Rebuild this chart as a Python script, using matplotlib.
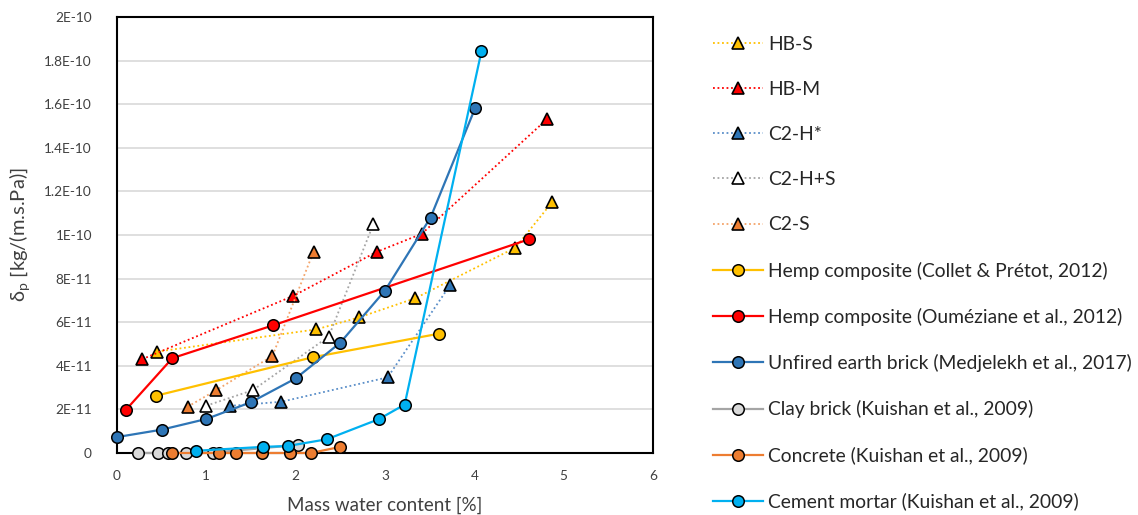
import numpy as np
import matplotlib
matplotlib.use("Agg")
import matplotlib.pyplot as plt
from matplotlib.ticker import FuncFormatter, MultipleLocator

plt.rcParams["font.family"] = ["Lato", "DejaVu Sans"]

# values, y in units of 1E-11 kg/(m.s.Pa)
hbs_x = [0.45, 2.23, 2.71, 3.34, 4.46, 4.87]
hbs_y = [4.65, 5.67, 6.22, 7.10, 9.42, 11.5]
hbm_x = [0.28, 1.97, 2.91, 3.41, 4.81]
hbm_y = [4.30, 7.20, 9.23, 10.05, 15.3]
c2h_x = [1.26, 1.84, 3.03, 3.73]
c2h_y = [2.16, 2.35, 3.47, 7.71]
c2hs_x = [1.00, 1.52, 2.37, 2.87]
c2hs_y = [2.17, 2.88, 5.34, 10.5]
c2s_x = [0.79, 1.11, 1.74, 2.20]
c2s_y = [2.12, 2.88, 4.45, 9.23]

collet_x = [0.44, 2.19, 3.60]
collet_y = [2.63, 4.39, 5.47]
oum_x = [0.10, 0.62, 1.75, 4.61]
oum_y = [1.98, 4.35, 5.86, 9.80]
earth_x = [0.0, 0.50, 1.00, 1.50, 2.00, 2.50, 3.00, 3.51, 4.01]
earth_y = [0.73, 1.07, 1.56, 2.33, 3.42, 5.06, 7.45, 10.8, 15.83]
clay_x = [0.23, 0.46, 0.57, 0.77, 1.08, 2.03]
clay_y = [0.0, 0.0, 0.0, 0.0, 0.02, 0.37]
concrete_x = [0.62, 1.14, 1.33, 1.62, 1.94, 2.17, 2.50]
concrete_y = [0.0, 0.0, 0.0, 0.0, 0.0, 0.0, 0.28]
mortar_x = [0.88, 1.63, 1.91, 2.35, 2.93, 3.22, 4.08]
mortar_y = [0.10, 0.28, 0.32, 0.63, 1.55, 2.22, 18.43]

SCALE = 1e-11

# (label, x, y, line colour, marker fill, dotted?, marker)
series = [
    ("HB-S", hbs_x, hbs_y, "#FFC000", "#FFC000", True, "^"),
    ("HB-M", hbm_x, hbm_y, "#FF0000", "#FF0000", True, "^"),
    ("C2-H*", c2h_x, c2h_y, "#5B8FC9", "#2E75B6", True, "^"),
    ("C2-H+S", c2hs_x, c2hs_y, "#A5A5A5", "#FFFFFF", True, "^"),
    ("C2-S", c2s_x, c2s_y, "#F4A46A", "#ED7D31", True, "^"),
    ("Hemp composite (Collet & Prétot, 2012)", collet_x, collet_y, "#FFC000", "#FFC000", False, "o"),
    ("Hemp composite (Ouméziane et al., 2012)", oum_x, oum_y, "#FF0000", "#FF0000", False, "o"),
    ("Unfired earth brick (Medjelekh et al., 2017)", earth_x, earth_y, "#2E75B6", "#2E75B6", False, "o"),
    ("Clay brick (Kuishan et al., 2009)", clay_x, clay_y, "#A5A5A5", "#D9D9D9", False, "o"),
    ("Concrete (Kuishan et al., 2009)", concrete_x, concrete_y, "#ED7D31", "#ED7D31", False, "o"),
    ("Cement mortar (Kuishan et al., 2009)", mortar_x, mortar_y, "#00B0F0", "#00B0F0", False, "o"),
]


def sci_label(v, pos):
    if abs(v) < 1e-15:
        return "0"
    if v < 0:
        return ""
    e = int(np.floor(np.log10(v) + 1e-9))
    m = round(v / 10 ** e, 3)
    return f"{m:g}E{e}"


fig = plt.figure(figsize=(11.38, 5.15), dpi=100)
ax = fig.add_axes([0.1028, 0.1204, 0.471, 0.8466])

for label, xs, ys, lc, fc, dotted, mk in series:
    y = np.array(ys) * SCALE
    if dotted:
        ax.plot(xs, y, color=lc, lw=1.3, ls=(0, (1, 1.5)), marker=mk, ms=8.2,
                mfc=fc, mec="black", mew=1.2, label=label, zorder=3, clip_on=False)
    else:
        ax.plot(xs, y, color=lc, lw=1.6, ls="-", marker=mk, ms=8.3,
                mfc=fc, mec="black", mew=1.1, label=label, zorder=3, clip_on=False)

ax.set_xlim(0, 6)
ax.set_ylim(0, 2e-10)
ax.xaxis.set_major_locator(MultipleLocator(1))
ax.yaxis.set_major_locator(MultipleLocator(2e-11))
ax.yaxis.set_major_formatter(FuncFormatter(sci_label))
ax.tick_params(length=0, labelsize=9.8, colors="#404040")
ax.tick_params(axis="x", pad=12.5)
ax.tick_params(axis="y", pad=18)
ax.grid(axis="y", color="#D9D9D9", lw=1.2)
ax.set_axisbelow(True)
for sp in ax.spines.values():
    sp.set_color("black")
    sp.set_linewidth(1.5)

ax.set_xlabel("Mass water content [%]", fontsize=13.5, color="#404040", labelpad=10)
ax.set_ylabel(r"δ$_\mathregular{p}$ [kg/(m.s.Pa)]", fontsize=14.5, color="#404040", labelpad=8)

fig.legend(loc="upper left", bbox_to_anchor=(0.6265, 0.931), frameon=False,
           fontsize=13.9, handlelength=2.59, handletextpad=0.26, labelspacing=1.46,
           borderpad=0, borderaxespad=0, labelcolor="#262626")

fig.savefig("out.png", dpi=100)
